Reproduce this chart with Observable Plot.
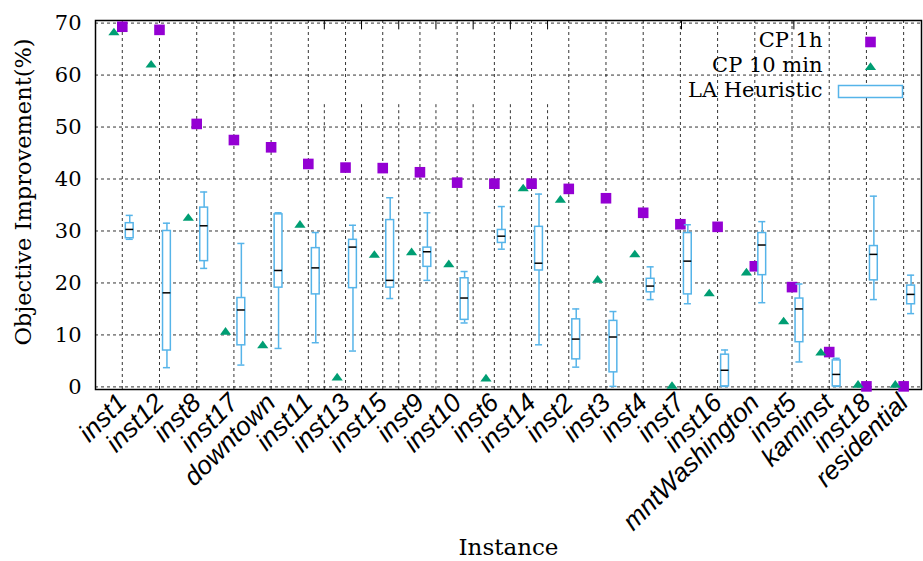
<!DOCTYPE html>
<html>
<head>
<meta charset="utf-8">
<script src="https://cdn.jsdelivr.net/npm/d3@7"></script>
<script src="https://cdn.jsdelivr.net/npm/@observablehq/plot@0.6"></script>
<style>
  html, body { margin: 0; padding: 0; background: #fff; }
  #chart svg { display: block; overflow: visible; }
</style>
</head>
<body>
<div id="chart"></div>
<script>
// ---------------- data ----------------
const instances = ["inst1","inst12","inst8","inst17","downtown","inst11","inst13","inst15","inst9","inst10","inst6","inst14","inst2","inst3","inst4","inst7","inst16","mntWashington","inst5","kaminst","inst18","residential"];
const cp1h   = [69.3, 68.7, 50.6, 47.5, 46.1, 42.9, 42.2, 42.1, 41.3, 39.3, 39.1, 39.1, 38.1, 36.3, 33.5, 31.3, 30.8, 23.2, 19.2, 6.7, 0.1, 0.1];
const cp10m  = [68.3, 62.1, 32.6, 10.7, 8.1, 31.3, 1.9, 25.5, 26.0, 23.7, 1.7, 38.3, 36.1, 20.7, 25.6, 0.3, 18.1, 22.1, 12.7, 6.7, 0.5, 0.5];
// LA Heuristic box plots: lower whisker, Q1, median, Q3, upper whisker
const laLow  = [28.4, 3.7, 22.8, 4.2, 7.4, 8.5, 6.9, 17.0, 20.5, 12.3, 26.5, 8.1, 3.8, 0.1, 16.8, 16.0, 0.1, 16.2, 4.8, 0.1, 16.8, 14.1];
const laQ1   = [28.6, 7.0, 24.2, 8.0, 19.1, 17.8, 19.0, 19.1, 23.1, 12.9, 27.7, 22.4, 5.3, 2.8, 18.2, 17.8, 0.1, 21.5, 8.6, 0.1, 20.5, 15.9];
const laMed  = [30.3, 18.1, 31.0, 14.8, 22.4, 22.9, 26.9, 20.5, 26.0, 17.1, 29.0, 23.8, 9.2, 9.6, 19.4, 24.2, 3.2, 27.3, 15.0, 2.4, 25.5, 17.8];
const laQ3   = [31.5, 30.0, 34.5, 17.1, 33.2, 26.7, 28.3, 32.1, 26.8, 20.9, 30.2, 30.8, 13.0, 12.7, 20.8, 29.6, 6.2, 29.6, 17.0, 5.1, 27.1, 19.5];
const laHigh = [33.0, 31.5, 37.5, 27.6, 33.5, 29.7, 31.1, 36.4, 33.5, 22.2, 34.7, 37.1, 15.0, 14.5, 23.1, 31.2, 7.1, 31.8, 19.8, 5.5, 36.7, 21.5];
const yTicks = [0, 10, 20, 30, 40, 50, 60, 70];
// secondary (x2) tic positions seen in the reference, in category-index units
const x2GridTics = [5.43, 6.43, 7.43, 8.43, 9.43, 10.43, 11.43];
const x2TopTics  = [5.43, 6.43, 7.43, 8.43, 9.43, 10.43, 11.43, 15.03, 18.05];
const seriesNames = ["CP 1h", "CP 10 min", "LA Heuristic"];

// ---------------- build ----------------
const rows = instances.map((name, i) => ({
  i, name, cp1h: cp1h[i], cp10m: cp10m[i],
  low: laLow[i], q1: laQ1[i], med: laMed[i], q3: laQ3[i], high: laHigh[i]
}));

const PURPLE = "#9400d3", GREEN = "#009e73", BLUE = "#56b4e9";
const BOX_OFF = 0.2, TRI_OFF = -0.225, BOX_HALF = 0.105, CAP_HALF = 0.095;

const squareSym = { draw(ctx) { const s = 5.3; ctx.rect(-s, -s, 2 * s, 2 * s); } };
const triSym = { draw(ctx) { ctx.moveTo(0, -4.2); ctx.lineTo(5.6, 3.4); ctx.lineTo(-5.6, 3.4); ctx.closePath(); } };
const boxSym = { draw(ctx) { ctx.rect(-32, -6, 64, 12); } };

const gridStyle = { stroke: "#000", strokeOpacity: 0.8, strokeWidth: 1, strokeDasharray: "3,3" };
const serif = "'DejaVu Serif', serif";

const legendRows = [
  { dy: 20, symbol: squareSym, fill: PURPLE, stroke: "none", sdy: 21.5 },
  { dy: 45, symbol: triSym, fill: GREEN, stroke: "none", sdy: 46 },
  { dy: 70, symbol: boxSym, fill: "white", stroke: BLUE, sdy: 71 }
];
const legendMarks = legendRows.flatMap((r, k) => [
  Plot.text([seriesNames[k]], { text: d => d, frameAnchor: "top-right", dx: -99, dy: r.dy, textAnchor: "end", lineAnchor: "middle", fontSize: 21, fontFamily: serif, fill: "#000" }),
  Plot.dot([seriesNames[k]], { frameAnchor: "top-right", dx: -51, dy: r.sdy, symbol: r.symbol, fill: r.fill, stroke: r.stroke, strokeWidth: 1.5 })
]);

const chart = Plot.plot({
  width: 923,
  height: 561,
  marginTop: 20,
  marginLeft: 95,
  marginRight: 2,
  marginBottom: 172,
  style: { background: "white", fontFamily: serif },
  x: { type: "linear", domain: [-0.72, 21.48] },
  y: { type: "linear", domain: [-0.5, 70.5] },
  marks: [
    Plot.gridY(yTicks, gridStyle),
    Plot.gridX(d3.range(instances.length), gridStyle),
    Plot.ruleX(x2GridTics, { y1: 54.3, y2: -0.5, ...gridStyle }),
    Plot.ruleX(x2TopTics, { y1: 70.5, y2: 68.7, stroke: "#000", strokeWidth: 1 }),
    Plot.frame({ stroke: "#000", strokeWidth: 1.5 }),
    // CP 1h
    Plot.dot(rows, { x: "i", y: "cp1h", symbol: squareSym, fill: PURPLE }),
    // CP 10 min
    Plot.dot(rows, { x: d => d.i + TRI_OFF, y: "cp10m", symbol: triSym, fill: GREEN }),
    // LA Heuristic box plots
    Plot.ruleX(rows, { x: d => d.i + BOX_OFF, y1: "low", y2: "high", stroke: BLUE, strokeWidth: 1.5 }),
    Plot.ruleY(rows, { y: "low", x1: d => d.i + BOX_OFF - CAP_HALF, x2: d => d.i + BOX_OFF + CAP_HALF, stroke: BLUE, strokeWidth: 1.5 }),
    Plot.ruleY(rows, { y: "high", x1: d => d.i + BOX_OFF - CAP_HALF, x2: d => d.i + BOX_OFF + CAP_HALF, stroke: BLUE, strokeWidth: 1.5 }),
    Plot.rect(rows, { x1: d => d.i + BOX_OFF - BOX_HALF, x2: d => d.i + BOX_OFF + BOX_HALF, y1: "q1", y2: "q3", fill: "white", stroke: BLUE, strokeWidth: 1.5, inset: 0 }),
    Plot.ruleY(rows, { y: "med", x1: d => d.i + BOX_OFF - BOX_HALF, x2: d => d.i + BOX_OFF + BOX_HALF, stroke: "#000", strokeWidth: 1.5 }),
    // axes
    Plot.axisY(yTicks, { tickSize: 0, tickPadding: 14, fontSize: 21, fontFamily: serif, label: null }),
    Plot.axisX(d3.range(instances.length), { tickFormat: i => instances[i], tickRotate: -45, tickSize: 0, tickPadding: 9, fontSize: 26, fontFamily: "'Liberation Sans', sans-serif", fontStyle: "italic", label: null }),
    Plot.text(["Objective Improvement(%)"], { text: d => d, frameAnchor: "left", y: 37.5, dx: -72, rotate: -90, fontSize: 22.5, fontFamily: serif, textAnchor: "middle", lineAnchor: "middle", fill: "#000" }),
    Plot.text(["Instance"], { text: d => d, frameAnchor: "bottom", dy: 158, fontSize: 23, fontFamily: serif, textAnchor: "middle", lineAnchor: "middle", fill: "#000" }),
    ...legendMarks
  ]
});
document.getElementById("chart").appendChild(chart);
</script>
</body>
</html>
